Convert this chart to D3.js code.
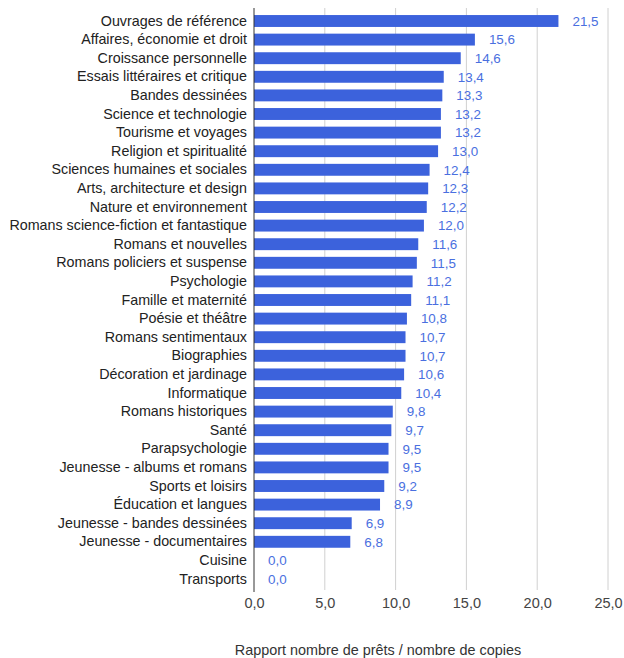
<!DOCTYPE html>
<html><head><meta charset="utf-8">
<script src="https://cdn.jsdelivr.net/npm/d3@7"></script>
<style>body{margin:0;background:#fff}svg{display:block;font-family:"Liberation Sans",Arial,sans-serif}</style>
</head><body><svg id="c" width="624" height="658"></svg>
<script>
const categories = ["Ouvrages de référence","Affaires, économie et droit","Croissance personnelle","Essais littéraires et critique","Bandes dessinées","Science et technologie","Tourisme et voyages","Religion et spiritualité","Sciences humaines et sociales","Arts, architecture et design","Nature et environnement","Romans science-fiction et fantastique","Romans et nouvelles","Romans policiers et suspense","Psychologie","Famille et maternité","Poésie et théâtre","Romans sentimentaux","Biographies","Décoration et jardinage","Informatique","Romans historiques","Santé","Parapsychologie","Jeunesse - albums et romans","Sports et loisirs","Éducation et langues","Jeunesse - bandes dessinées","Jeunesse - documentaires","Cuisine","Transports"];
const values = [21.5,15.6,14.6,13.4,13.3,13.2,13.2,13.0,12.4,12.3,12.2,12.0,11.6,11.5,11.2,11.1,10.8,10.7,10.7,10.6,10.4,9.8,9.7,9.5,9.5,9.2,8.9,6.9,6.8,0.0,0.0];
const xTicks = [0,5,10,15,20,25];
const axisTitle = "Rapport nombre de prêts / nombre de copies";

const svg = d3.select("#c");
const fmt = v => v.toFixed(1).replace(".", ",");
const x = d3.scaleLinear().domain([0,25]).range([254,608]);
const y = d3.scaleBand().domain(categories).range([11.7,588.3]).paddingInner(0.36).paddingOuter(0.18);

// gridlines
svg.append("g").selectAll("line").data(xTicks.slice(1)).join("line")
  .attr("x1",d=>x(d)).attr("x2",d=>x(d)).attr("y1",8).attr("y2",590)
  .attr("stroke","#d0d0d0").attr("stroke-width",1);

// bars
svg.append("g").selectAll("rect").data(values).join("rect")
  .attr("x",x(0)).attr("y",(d,i)=>y(categories[i]))
  .attr("width",d=>x(d)-x(0)).attr("height",y.bandwidth())
  .attr("fill","#3c62dc");

// value labels
svg.append("g").selectAll("text").data(values).join("text")
  .attr("x",d=>x(d)+14).attr("y",(d,i)=>y(categories[i])+y.bandwidth()/2)
  .attr("dy","0.36em").attr("font-size",13.4).attr("fill","#4a6fe0")
  .text(fmt);

// y axis
const yAxis = d3.axisLeft(y).tickSize(0).tickPadding(7);
const gy = svg.append("g").attr("transform",`translate(${x(0)},0)`).call(yAxis);
gy.select(".domain").remove();
gy.selectAll("text").attr("font-size",14.3).attr("fill","#222").attr("font-family","Liberation Sans, Arial, sans-serif");
svg.append("line").attr("x1",x(0)).attr("x2",x(0)).attr("y1",8).attr("y2",592).attr("stroke","#333").attr("stroke-width",1);

// x axis
const xAxis = d3.axisBottom(x).tickValues(xTicks).tickSize(0).tickPadding(0).tickFormat(fmt);
const gx = svg.append("g").attr("transform","translate(0,598)").call(xAxis);
gx.select(".domain").remove();
gx.selectAll("text").attr("font-size",14.5).attr("fill","#444").attr("font-family","Liberation Sans, Arial, sans-serif");

svg.append("text").attr("x",378).attr("y",655).attr("text-anchor","middle")
  .attr("font-size",14.4).attr("fill","#333").text(axisTitle);
</script></body></html>
